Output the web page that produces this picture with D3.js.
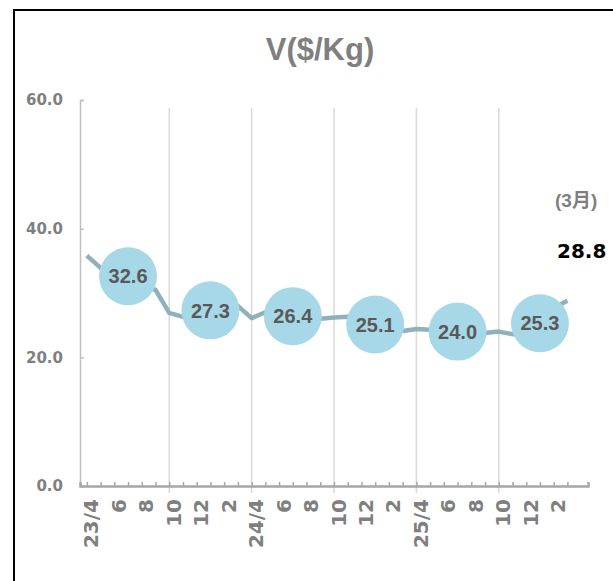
<!DOCTYPE html>
<html>
<head>
<meta charset="utf-8">
<script src="https://cdn.jsdelivr.net/npm/d3@7"></script>
<style>
  body { margin: 0; background: #fff; }
</style>
</head>
<body>
<div id="chart"></div>
<script>
// monthly series, 23/4 .. 26/3
const months = ["23/4", "5", "6", "7", "8", "9", "10", "11", "12", "1", "2", "3",
    "24/4", "5", "6", "7", "8", "9", "10", "11", "12", "1", "2", "3",
    "25/4", "5", "6", "7", "8", "9", "10", "11", "12", "1", "2", "3"];
const values = [35.8, 33.9, 32.5, 31.8, 31.1, 30.5, 26.9, 26.3, 26.8, 27.6, 28.2, 28.0,
    26.1, 27.0, 26.8, 26.4, 26.1, 26.0, 26.2, 26.3, 25.6, 24.3, 24.1, 24.1,
    24.4, 24.3, 24.0, 23.7, 23.8, 23.8, 24.0, 23.6, 23.7, 24.0, 27.7, 28.8];

// half-year averages shown in the bubbles
const halfIndex = [3, 9, 15, 21, 27, 33];
const halfValues = [32.6, 27.3, 26.4, 25.1, 24.0, 25.3];

const yTicks = [0, 20, 40, 60];
const gridIndex = [6, 12, 18, 24, 30];
const lastLabel = "(3月)";

function main() {

    const canvasWidth = 613;
    const canvasHeight = 581;

    const svg = d3.select("#chart").append("svg")
        .attr("width", canvasWidth)
        .attr("height", canvasHeight)
        .style("display", "block");

    // outer frame (cut off on the right and bottom)
    svg.append("rect")
        .attr("x", 14)
        .attr("y", 10)
        .attr("width", 800)
        .attr("height", 800)
        .attr("fill", "none")
        .attr("stroke", "#000")
        .attr("stroke-width", 2);

    const xScale = d3.scaleLinear()
        .domain([-0.5, months.length + 0.5])
        .range([80, 588]);

    const yScale = d3.scaleLinear()
        .domain([0, 60])
        .range([486, 100]);

    svg.append("text")
        .attr("x", 320)
        .attr("y", 60)
        .attr("text-anchor", "middle")
        .attr("font-family", "Liberation Sans, Arial, sans-serif")
        .attr("font-weight", "bold")
        .attr("font-size", "31px")
        .attr("fill", "#7f7f7f")
        .text("V($/Kg)");

    // vertical gridlines every half year
    svg.append("g")
        .selectAll("line")
        .data(gridIndex)
        .join("line")
        .attr("x1", d => xScale(d))
        .attr("x2", d => xScale(d))
        .attr("y1", yScale(58.8))
        .attr("y2", yScale(0) + 7)
        .attr("stroke", "#d9d9d9")
        .attr("stroke-width", 1.5);

    const yAxis = svg.append("g")
        .attr("transform", "translate(80,0)")
        .call(d3.axisLeft(yScale)
            .tickValues(yTicks)
            .tickSizeInner(-4)
            .tickSizeOuter(-4)
            .tickPadding(17)
            .tickFormat(d3.format(".1f")));
    yAxis.selectAll("path, line")
        .attr("stroke", "#bfbfbf")
        .attr("stroke-width", 1.5);
    yAxis.selectAll("text")
        .attr("font-family", "DejaVu Sans, sans-serif")
        .attr("font-weight", "bold")
        .attr("font-size", "15px")
        .attr("fill", "#7f7f7f");

    const xAxis = svg.append("g")
        .attr("transform", "translate(0," + yScale(0) + ")")
        .call(d3.axisBottom(xScale)
            .tickValues(d3.range(months.length))
            .tickSizeInner(-4)
            .tickSizeOuter(-4)
            .tickFormat((d, i) => i % 2 === 0 ? months[i] : ""));
    xAxis.select(".domain")
        .attr("stroke", "#a6a6a6")
        .attr("stroke-width", 2.5);
    xAxis.selectAll("line")
        .attr("stroke", "#a6a6a6")
        .attr("stroke-width", 1.5);
    xAxis.selectAll("text")
        .attr("transform", "rotate(-90)")
        .attr("text-anchor", "end")
        .attr("x", -13)
        .attr("y", 4)
        .attr("dy", "0.35em")
        .attr("font-family", "DejaVu Sans, sans-serif")
        .attr("font-weight", "bold")
        .attr("font-size", "20px")
        .attr("fill", "#7f7f7f");

    const line = d3.line()
        .x((d, i) => xScale(i))
        .y(d => yScale(d));

    svg.append("path")
        .datum(values)
        .attr("fill", "none")
        .attr("stroke", "#8fb1b9")
        .attr("stroke-width", 4.5)
        .attr("stroke-linejoin", "round")
        .attr("d", line);

    const bubbles = svg.append("g")
        .selectAll("g")
        .data(halfValues)
        .join("g")
        .attr("transform", (d, i) => "translate(" + xScale(halfIndex[i]) + "," + yScale(d) + ")");

    bubbles.append("circle")
        .attr("r", 29)
        .attr("fill", "#a7d8e7");

    bubbles.append("text")
        .attr("text-anchor", "middle")
        .attr("dy", "0.36em")
        .attr("font-family", "Liberation Sans, Arial, sans-serif")
        .attr("font-weight", "bold")
        .attr("font-size", "20px")
        .attr("fill", "#595959")
        .text(d => d3.format(".1f")(d));

    // latest month annotation
    svg.append("text")
        .attr("x", 555)
        .attr("y", 207)
        .attr("font-family", "Liberation Sans, Noto Sans CJK JP, sans-serif")
        .attr("font-weight", "bold")
        .attr("font-size", "19px")
        .attr("fill", "#7f7f7f")
        .text(lastLabel);

    svg.append("text")
        .attr("x", 557)
        .attr("y", 258)
        .attr("font-family", "DejaVu Sans, sans-serif")
        .attr("font-weight", "bold")
        .attr("font-size", "20px")
        .attr("fill", "#000")
        .text(d3.format(".1f")(values[values.length - 1]));
}
main();
</script>
</body>
</html>
